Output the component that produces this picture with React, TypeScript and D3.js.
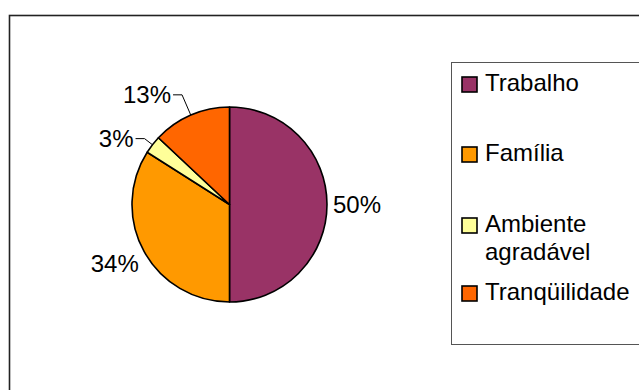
import React from "react";
import * as d3 from "d3";

const categories = ["Trabalho", "Família", "Ambiente agradável", "Tranqüilidade"];
const legendLines = [["Trabalho"], ["Família"], ["Ambiente", "agradável"], ["Tranqüilidade"]];
const values = [50, 34, 3, 13];
const colors = ["#993366", "#FF9900", "#FFFF99", "#FF6600"];

const W = 639;
const H = 390;
const FONT = "'Liberation Sans', Arial, sans-serif";
const FS = 24;

export default function App() {
  const cx = 229.5;
  const cy = 204.5;
  const r = 97.5;

  const pie = d3.pie<number>().sort(null).value((d) => d).startAngle(0).endAngle(2 * Math.PI);
  const arcs = pie(values);
  const arc = d3.arc<d3.PieArcDatum<number>>().innerRadius(0).outerRadius(r);
  const total = d3.sum(values);

  const leader = [false, false, true, true];
  const leaderExtra = [0, 0, 10, 22];

  const legendY = [91, 161, 232, 300];

  return (
    <svg width={W} height={H} style={{ position: "absolute", left: 0, top: 0 }} fontFamily={FONT}>
      <rect x={0} y={0} width={W} height={H} fill="#fff" />
      <rect x={9.5} y={15.5} width={800} height={600} fill="none" stroke="#222" strokeWidth={1.6} />
      <g transform={`translate(${cx},${cy})`}>
        {arcs.map((a, i) => (
          <path key={i} d={arc(a) || ""} fill={colors[i]} stroke="#000" strokeWidth={1.6} strokeLinejoin="round" />
        ))}
      </g>
      {arcs.map((a, i) => {
        const mid = (a.startAngle + a.endAngle) / 2;
        const sx = Math.sin(mid);
        const sy = -Math.cos(mid);
        const label = `${Math.round((values[i] / total) * 100)}%`;
        if (leader[i]) {
          const ex = cx + r * sx;
          const ey = cy + r * sy;
          const rr = r + leaderExtra[i];
          const bx = cx + rr * sx;
          const by = cy + rr * sy;
          const hx = bx - 9;
          return (
            <g key={i}>
              <polyline points={`${ex},${ey} ${bx},${by} ${hx},${by}`} fill="none" stroke="#000" strokeWidth={1} />
              <text x={hx - 2} y={by + 8.5} fontSize={FS} textAnchor="end" fill="#000">
                {label}
              </text>
            </g>
          );
        }
        const lr = r + 6;
        const px = cx + lr * sx;
        const py = cy + lr * sy;
        const right = sx >= 0;
        const anchor = right ? "start" : "end";
        let baseline = py + 8.5;
        if (Math.abs(sy) > 0.3) baseline = sy > 0 ? py + 18 : py - 2;
        return (
          <text key={i} x={px} y={baseline} fontSize={FS} textAnchor={anchor} fill="#000">
            {label}
          </text>
        );
      })}
      <rect x={451.5} y={62.5} width={300} height={282} fill="#fff" stroke="#555" strokeWidth={1} />
      {categories.map((c, i) => (
        <g key={c}>
          <rect x={462} y={legendY[i] - 14} width={15} height={15} fill={colors[i]} stroke="#000" strokeWidth={1.6} />
          {legendLines[i].map((ln, j) => (
            <text key={j} x={485} y={legendY[i] + j * 28} fontSize={FS} fill="#000">
              {ln}
            </text>
          ))}
        </g>
      ))}
    </svg>
  );
}
